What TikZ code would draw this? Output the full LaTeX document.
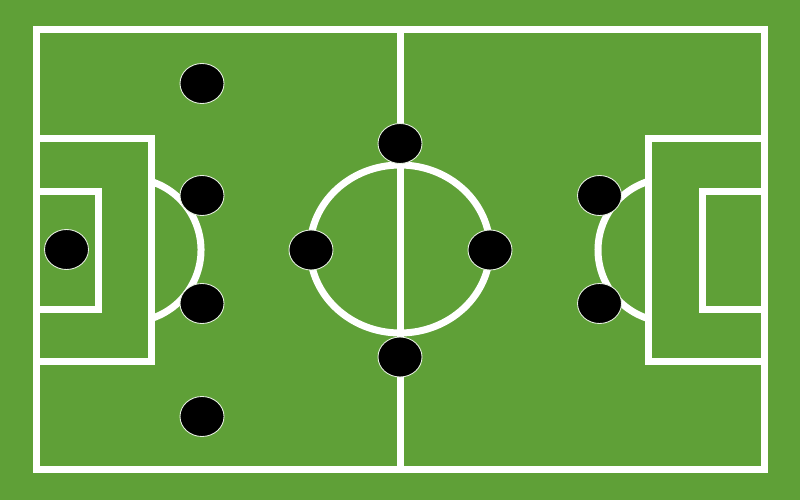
\documentclass[tikz,border=0pt]{standalone}
\usepackage{tikz}
\usetikzlibrary{shapes.geometric}
\definecolor{pitch}{HTML}{5FA037}
\begin{document}
\begin{tikzpicture}[x=0.02cm,y=-0.02cm,
    line/.style={white,line width=0.14cm},
    player/.style={ellipse,fill=black,draw=white!85!pitch,line width=0.5pt,minimum width=0.88cm,minimum height=0.8cm,inner sep=0pt}]
    \fill[pitch] (0,0) rectangle (800,500);
    \useasboundingbox (0,0) rectangle (800,500);
    % lines of the pitch
    \draw[line] (36.5,29.5) rectangle (764,469);
    \draw[line] (400,29.5) -- (400,469);
    \draw[line] (400,249) ellipse [x radius=90,y radius=84];
    \draw[line] (36.5,138) -- (151,138) -- (151,361) -- (36.5,361);
    \draw[line] (36.5,191) -- (98,191) -- (98,309) -- (36.5,309);
    \draw[line] (764,138) -- (648,138) -- (648,361) -- (764,361);
    \draw[line] (764,191) -- (702,191) -- (702,309) -- (764,309);
    \draw[line] ([shift={(72:72)}]129,250) arc[start angle=72,end angle=-72,radius=72];
    \draw[line] ([shift={(108:72)}]670,250) arc[start angle=108,end angle=252,radius=72];
    % players
    \node[player] (gk) at (66.5,249.5) {};
    \node[player] (lb) at (202,83.5) {};
    \node[player] (lcb) at (202,195.5) {};
    \node[player] (rcb) at (202,303.5) {};
    \node[player] (rb) at (202,416.5) {};
    \node[player] (cmt) at (400,143.5) {};
    \node[player] (lm) at (311,250) {};
    \node[player] (rm) at (490,250) {};
    \node[player] (cmb) at (400,357) {};
    \node[player] (stt) at (599.5,195.5) {};
    \node[player] (stb) at (599.5,303.5) {};
\end{tikzpicture}
\end{document}
